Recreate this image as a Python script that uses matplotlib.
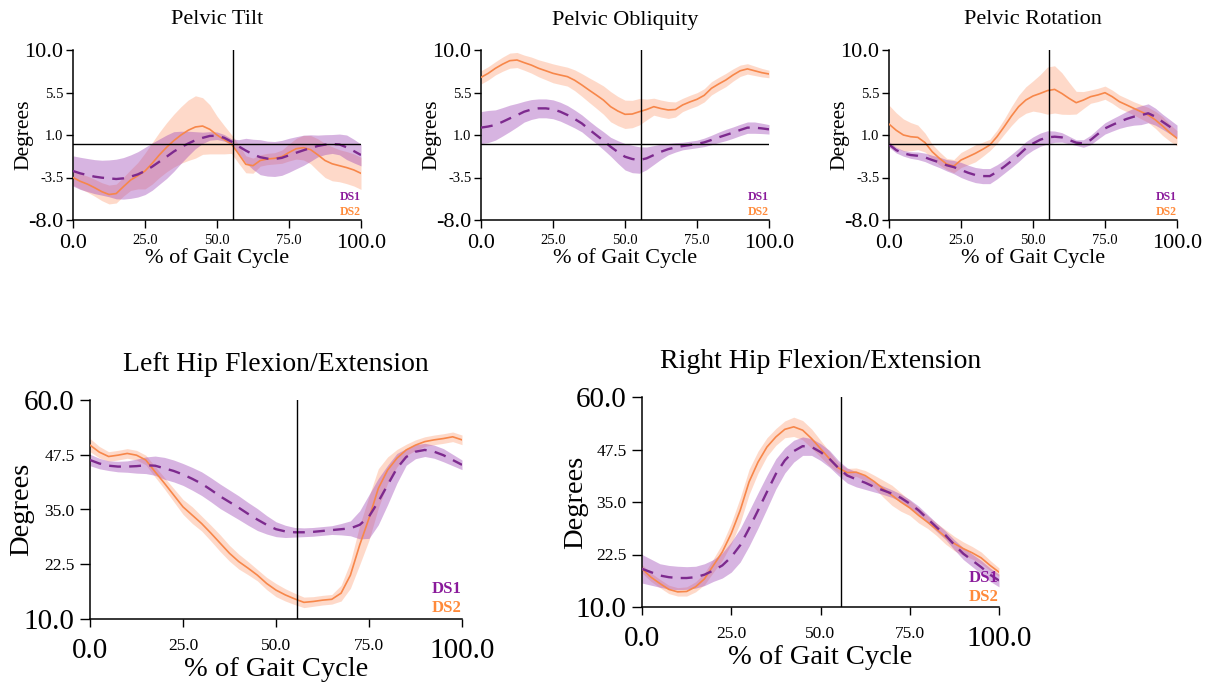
import matplotlib
matplotlib.use("Agg")
import matplotlib.pyplot as plt

plt.rcParams['font.family'] = ['Liberation Serif', 'DejaVu Serif']

# ---------------- data ----------------
gait_pct = [0, 2.5, 5, 7.5, 10, 12.5, 15, 17.5, 20, 22.5, 25, 27.5, 30, 32.5, 35, 37.5, 40, 42.5, 45, 47.5,
            50, 52.5, 55, 57.5, 60, 62.5, 65, 67.5, 70, 72.5, 75, 77.5, 80, 82.5, 85, 87.5, 90, 92.5, 95, 97.5, 100]
toe_off = 55.7

titles = ["Pelvic Tilt", "Pelvic Obliquity", "Pelvic Rotation",
          "Left Hip Flexion/Extension", "Right Hip Flexion/Extension"]
series_names = ["DS1", "DS2"]

pelvic_range = (-8.0, 10.0)
pelvic_yticks = [-8.0, -3.5, 1.0, 5.5, 10.0]
hip_range = (10.0, 60.0)
hip_yticks = [10.0, 22.5, 35.0, 47.5, 60.0]
xticks = [0.0, 25.0, 50.0, 75.0, 100.0]

# Pelvic Tilt
tilt_ds1 = [-2.81, -3.06, -3.24, -3.41, -3.52, -3.59, -3.66, -3.59, -3.41, -3.17, -2.81, -2.35, -1.82, -1.3, -0.75, -0.3, 0.1, 0.45, 0.7, 0.9,
            0.92, 0.7, 0.3, -0.2, -0.65, -1.05, -1.35, -1.5, -1.54, -1.42, -1.15, -0.88, -0.62, -0.38, -0.16, -0.02, 0.05, 0.0, -0.3, -0.7, -1.12]
tilt_ds1_sd = [1.6, 1.7, 1.75, 1.8, 1.85, 1.95, 2.1, 2.2, 2.3, 2.4, 2.5, 2.5, 2.4, 2.3, 2.1, 1.7, 1.3, 0.9, 0.6, 0.45,
               0.4, 0.35, 0.3, 0.7, 1.3, 1.6, 1.85, 1.85, 1.85, 1.85, 1.8, 1.7, 1.6, 1.4, 1.15, 1.05, 1.0, 1.1, 1.3, 1.25, 1.15]
tilt_ds2 = [-3.5, -3.9, -4.2, -4.58, -5.0, -5.3, -5.2, -4.47, -3.77, -3.31, -2.81, -2.0, -1.1, -0.3, 0.4, 1.0, 1.5, 1.85, 1.95, 1.6,
            1.0, 0.5, 0.05, -1.0, -2.1, -2.25, -1.7, -1.54, -1.47, -1.3, -0.85, -0.45, -0.34, -0.55, -1.1, -1.7, -2.05, -2.25, -2.45, -2.7, -3.06]
tilt_ds2_sd = [0.8, 0.8, 0.85, 0.9, 0.95, 1.0, 1.0, 1.0, 1.1, 1.4, 1.9, 2.2, 2.4, 2.6, 2.8, 3.0, 3.2, 3.3, 3.0, 2.6,
               2.0, 1.5, 1.0, 1.0, 0.9, 0.8, 0.6, 0.6, 0.6, 0.7, 0.9, 1.1, 1.3, 1.5, 1.7, 1.8, 1.8, 1.7, 1.7, 1.7, 1.7]

# Pelvic Obliquity
obl_ds1 = [1.78, 1.9, 2.06, 2.4, 2.76, 3.1, 3.47, 3.7, 3.82, 3.82, 3.72, 3.47, 3.12, 2.7, 2.23, 1.6, 1.0, 0.4, -0.24, -0.8,
           -1.3, -1.54, -1.65, -1.47, -1.12, -0.77, -0.5, -0.31, -0.17, -0.06, 0.05, 0.22, 0.47, 0.75, 1.0, 1.25, 1.53, 1.78, 1.78, 1.7, 1.6]
obl_ds1_sd = [1.7, 1.7, 1.6, 1.5, 1.4, 1.25, 1.1, 1.05, 1.0, 1.0, 1.0, 1.0, 1.0, 0.95, 0.9, 0.9, 0.9, 0.95, 1.0, 1.2,
              1.4, 1.45, 1.4, 1.2, 1.0, 0.8, 0.6, 0.5, 0.4, 0.4, 0.4, 0.45, 0.5, 0.55, 0.6, 0.6, 0.6, 0.6, 0.6, 0.55, 0.5]
obl_ds2 = [7.1, 7.53, 8.06, 8.5, 8.87, 8.94, 8.66, 8.4, 8.06, 7.8, 7.53, 7.35, 7.18, 6.8, 6.3, 5.76, 5.24, 4.7, 4.0, 3.54,
           3.19, 3.22, 3.47, 3.7, 4.0, 3.8, 3.65, 3.7, 4.18, 4.5, 4.78, 5.2, 5.94, 6.4, 6.82, 7.35, 7.8, 8.0, 7.8, 7.6, 7.46]
obl_ds2_sd = [0.7, 0.7, 0.7, 0.75, 0.8, 0.8, 0.8, 0.85, 0.9, 0.95, 1.0, 1.0, 1.0, 1.1, 1.2, 1.3, 1.4, 1.5, 1.6, 1.55,
              1.5, 1.45, 1.4, 1.1, 0.9, 0.9, 0.9, 0.8, 0.7, 0.7, 0.7, 0.7, 0.7, 0.7, 0.7, 0.65, 0.6, 0.55, 0.5, 0.45, 0.4]

# Pelvic Rotation
rot_ds1 = [0.0, -0.6, -0.94, -1.12, -1.2, -1.37, -1.65, -1.9, -2.2, -2.4, -2.7, -3.0, -3.24, -3.35, -3.35, -2.9, -2.35, -1.75, -1.12, -0.41,
           0.1, 0.5, 0.75, 0.82, 0.75, 0.47, 0.19, 0.1, 0.47, 1.1, 1.7, 2.06, 2.4, 2.7, 2.94, 3.1, 3.3, 2.94, 2.4, 1.88, 1.35]
rot_ds1_sd = [0.3, 0.3, 0.3, 0.35, 0.4, 0.45, 0.5, 0.55, 0.6, 0.7, 0.8, 0.8, 0.8, 0.8, 0.8, 0.75, 0.7, 0.7, 0.7, 0.7,
              0.7, 0.7, 0.7, 0.6, 0.5, 0.4, 0.3, 0.4, 0.5, 0.55, 0.6, 0.65, 0.7, 0.8, 0.9, 1.0, 1.0, 0.9, 0.8, 0.75, 0.7]
rot_ds2 = [2.16, 1.5, 1.0, 0.82, 0.75, 0.2, -0.77, -1.47, -2.07, -2.3, -1.65, -1.3, -0.94, -0.52, -0.06, 0.82, 1.88, 3.0, 4.0, 4.7,
           5.13, 5.4, 5.7, 5.83, 5.4, 4.88, 4.42, 4.7, 5.06, 5.24, 5.48, 5.06, 4.53, 4.18, 3.82, 3.47, 3.12, 2.6, 1.95, 1.25, 0.65]
rot_ds2_sd = [2.0, 1.85, 1.7, 1.5, 1.3, 1.0, 0.8, 0.7, 0.6, 0.7, 0.8, 0.85, 0.9, 0.75, 0.6, 0.7, 0.8, 1.0, 1.2, 1.4,
              1.6, 2.0, 2.5, 2.5, 2.2, 1.7, 1.2, 0.9, 0.7, 0.7, 0.7, 0.7, 0.7, 0.7, 0.7, 0.75, 0.8, 0.9, 1.0, 0.9, 0.8]

# Left Hip Flexion/Extension
lhip_ds1 = [46.3, 45.5, 45.0, 44.8, 44.8, 44.9, 45.1, 45.0, 44.4, 43.8, 43.0, 42.0, 40.9, 39.5, 38.0, 36.7, 35.4, 34.0, 32.7, 31.5,
            30.5, 30.0, 29.8, 29.8, 29.9, 30.1, 30.3, 30.5, 30.7, 31.5, 33.4, 36.8, 40.6, 44.4, 47.0, 48.2, 48.6, 48.2, 47.4, 46.3, 45.2]
lhip_ds1_sd = [1.3, 1.2, 1.1, 1.2, 1.3, 1.6, 1.9, 2.2, 2.5, 2.5, 2.5, 2.6, 2.7, 2.75, 2.8, 2.75, 2.7, 2.6, 2.5, 2.1,
               1.7, 1.4, 1.1, 1.0, 1.0, 1.0, 1.0, 1.3, 1.7, 3.2, 5.0, 5.3, 4.5, 3.4, 1.9, 1.6, 1.5, 1.5, 1.5, 1.3, 1.1]
lhip_ds2 = [49.7, 48.1, 47.1, 47.4, 47.8, 47.4, 46.3, 43.6, 41.0, 38.3, 35.6, 33.7, 31.8, 29.6, 27.3, 25.0, 23.1, 21.6, 20.0, 18.1,
            16.6, 15.5, 14.6, 13.8, 14.0, 14.3, 14.5, 15.9, 20.0, 26.9, 33.0, 39.8, 44.0, 46.7, 48.6, 49.7, 50.5, 50.9, 51.2, 51.6, 50.9]
lhip_ds2_sd = [1.5, 1.3, 1.1, 1.1, 1.1, 1.1, 1.1, 1.2, 1.3, 1.5, 1.7, 1.9, 1.7, 1.8, 1.9, 1.8, 1.7, 1.5, 1.3, 1.4,
               1.5, 1.4, 1.3, 1.2, 1.1, 1.1, 1.1, 1.8, 3.0, 4.5, 5.0, 4.5, 3.0, 2.0, 1.3, 1.2, 1.1, 1.1, 1.1, 1.1, 1.1]

# Right Hip Flexion/Extension
rhip_ds1 = [19.1, 18.3, 17.5, 17.1, 16.9, 16.9, 17.1, 17.7, 18.7, 19.9, 21.9, 24.7, 28.7, 33.0, 37.4, 41.7, 44.9, 47.1, 48.3, 48.1,
            46.9, 45.3, 43.1, 41.3, 40.4, 39.6, 38.6, 37.8, 37.0, 36.0, 34.6, 33.0, 31.0, 29.0, 27.1, 24.8, 22.7, 21.1, 19.5, 17.7, 16.3]
rhip_ds1_sd = [3.4, 3.1, 2.8, 2.8, 2.8, 2.7, 2.6, 2.6, 2.6, 3.0, 3.6, 4.0, 4.2, 4.2, 4.0, 3.6, 3.0, 2.6, 2.2, 2.0,
               2.0, 2.0, 1.8, 1.8, 1.8, 1.6, 1.2, 1.0, 0.9, 0.9, 1.0, 1.0, 1.0, 1.0, 1.0, 1.2, 1.4, 1.5, 1.6, 1.6, 1.5]
rhip_ds2 = [19.1, 17.1, 15.6, 14.2, 13.6, 13.7, 14.8, 16.7, 19.9, 23.1, 27.5, 33.0, 39.8, 44.5, 48.1, 50.5, 52.3, 52.9, 52.1, 50.1,
            47.7, 45.3, 43.1, 42.0, 42.1, 41.3, 39.9, 38.2, 36.6, 35.0, 33.6, 31.8, 30.2, 28.5, 26.7, 25.1, 23.9, 22.9, 21.7, 19.9, 18.3]
rhip_ds2_sd = [1.0, 1.0, 1.0, 1.0, 1.0, 1.1, 1.2, 1.4, 1.6, 2.0, 2.5, 3.0, 3.0, 2.6, 2.2, 2.0, 2.0, 2.3, 2.3, 2.3,
               2.0, 1.7, 1.2, 1.0, 1.0, 1.2, 1.5, 2.0, 2.4, 2.2, 1.8, 1.8, 1.5, 1.5, 1.7, 1.7, 1.6, 1.5, 1.4, 1.2, 1.0]

panel_data = [
    (tilt_ds1, tilt_ds1_sd, tilt_ds2, tilt_ds2_sd),
    (obl_ds1, obl_ds1_sd, obl_ds2, obl_ds2_sd),
    (rot_ds1, rot_ds1_sd, rot_ds2, rot_ds2_sd),
    (lhip_ds1, lhip_ds1_sd, lhip_ds2, lhip_ds2_sd),
    (rhip_ds1, rhip_ds1_sd, rhip_ds2, rhip_ds2_sd),
]

# ---------------- style ----------------
W, H = 1214, 685
purple_line = '#7d2a8e'
purple_fill = '#9d45b5'
orange_line = '#f7874a'
orange_fill = '#fda27a'
legend_c = ['#8a1a9b', '#ff8a3a']

# axes boxes in pixels (left, right, top, bottom)
boxes = [
    (73, 361, 50, 220),
    (481, 769, 50, 220),
    (889, 1177, 50, 220),
    (90, 462, 400, 619),
    (642, 999, 397, 607),
]
# label offsets in pixels: title above, xlabel below, ylabel left
offsets = [
    (30, 38, 49),
    (30, 38, 49),
    (30, 38, 49),
    (35, 51, 68),
    (35, 50, 66),
]

fig = plt.figure(figsize=(W / 100, H / 100), dpi=100)

for i, (box, off, title, data) in enumerate(zip(boxes, offsets, titles, panel_data)):
    l, r, t, b = box
    w, h = r - l, b - t
    ax = fig.add_axes([l / W, 1 - b / H, w / W, h / H])
    top = i < 3
    d1, s1, d2, s2 = data
    lo1 = [m - s for m, s in zip(d1, s1)]
    hi1 = [m + s for m, s in zip(d1, s1)]
    lo2 = [m - s for m, s in zip(d2, s2)]
    hi2 = [m + s for m, s in zip(d2, s2)]

    ax.fill_between(gait_pct, lo2, hi2, color=orange_fill, alpha=0.4, lw=0, zorder=1)
    ax.fill_between(gait_pct, lo1, hi1, color=purple_fill, alpha=0.4, lw=0, zorder=2)
    ax.plot(gait_pct, d2, color=orange_line, lw=1.2, zorder=4)
    ax.plot(gait_pct, d1, color=purple_line, lw=1.7, ls=(0, (5, 3.5)), zorder=5)

    yr = pelvic_range if top else hip_range
    yt = pelvic_yticks if top else hip_yticks
    ax.set_xlim(0, 100)
    ax.set_ylim(*yr)
    ax.axvline(toe_off, color='black', lw=1.0, zorder=6)
    if top:
        ax.axhline(0, color='black', lw=1.0, zorder=6)

    for side in ['top', 'right']:
        ax.spines[side].set_visible(False)
    for side in ['left', 'bottom']:
        ax.spines[side].set_linewidth(1.1)

    big = 16 if top else 21
    small = 10.5 if top else 12.5
    ax.set_xticks(xticks)
    ax.set_yticks(yt)
    ax.set_xticklabels([f"{v:.1f}" for v in xticks])
    ax.set_yticklabels([f"{v:.1f}" for v in yt])
    ax.tick_params(axis='y', direction='out', length=(5 if top else 7), width=1.0, pad=(2 if top else 4))
    ax.tick_params(axis='x', direction='out', length=6, width=1.0, pad=(4 if top else 8))
    for lbls in (ax.get_xticklabels(), ax.get_yticklabels()):
        for j, lab in enumerate(lbls):
            lab.set_fontsize(big if j in (0, len(lbls) - 1) else small)

    t_off, x_off, y_off = off
    ax.set_xlabel("% of Gait Cycle", fontsize=(16 if top else 20.5), va='center')
    ax.xaxis.set_label_coords(0.5, -x_off / h)
    ax.set_ylabel("Degrees", fontsize=(15.5 if top else 20.5), va='center')
    ax.yaxis.set_label_coords(-y_off / w, 0.5)
    ax.text(0.5, 1 + t_off / h, title, transform=ax.transAxes, ha='center', va='center',
            fontsize=(16 if top else 20))

    lf = 8.5 if top else 12
    ax.text(1.0, 0.136, series_names[0], transform=ax.transAxes, ha='right', va='center',
            fontsize=lf, fontweight='bold', color=legend_c[0], zorder=7)
    ax.text(1.0, 0.048, series_names[1], transform=ax.transAxes, ha='right', va='center',
            fontsize=lf, fontweight='bold', color=legend_c[1], zorder=7)

fig.savefig("out.png", dpi=100)
